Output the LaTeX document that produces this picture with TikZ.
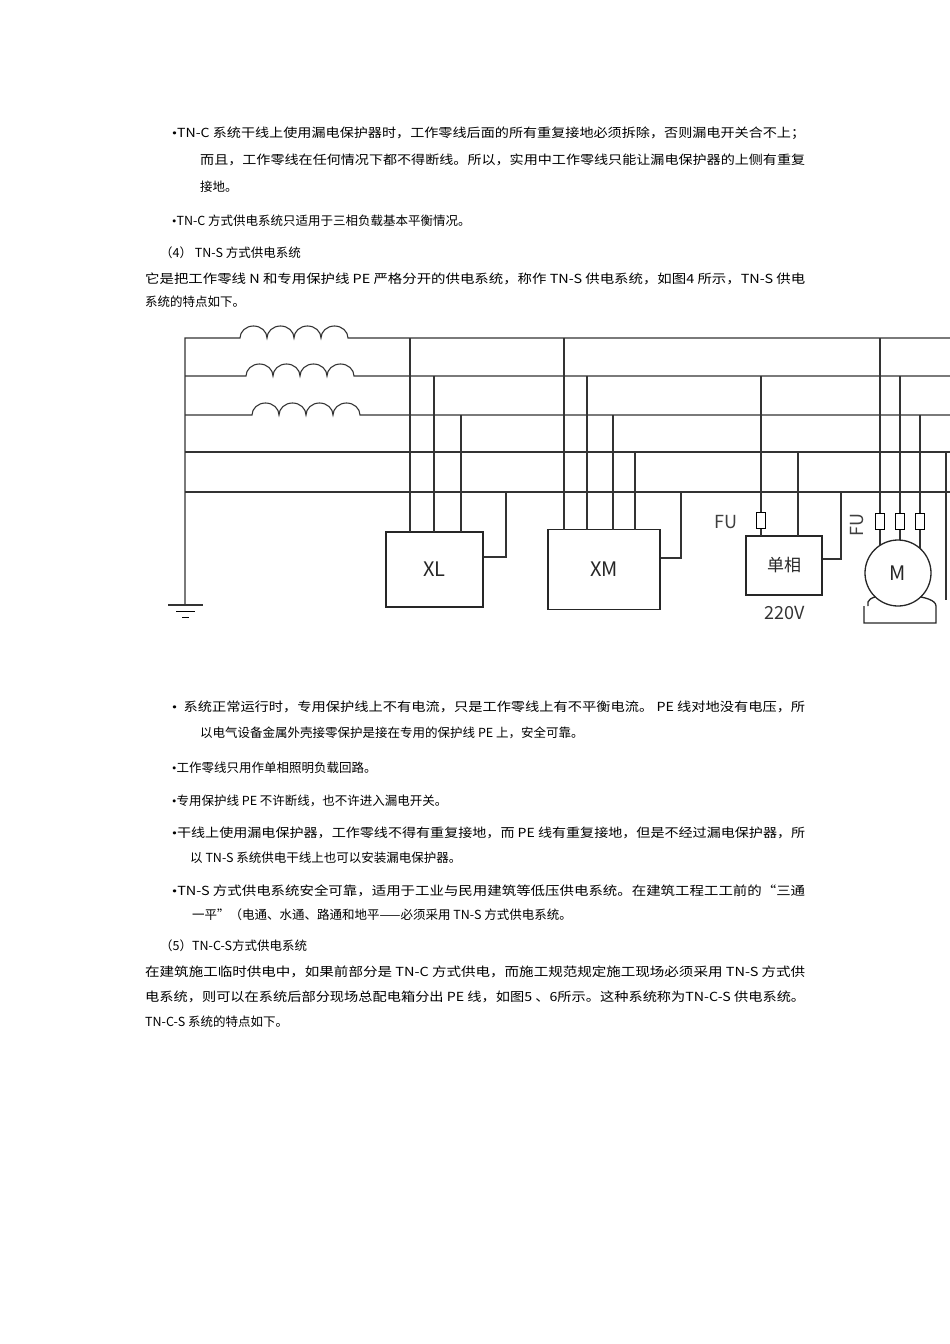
\documentclass[tikz,border=0pt]{standalone}
\usepackage{fontspec}
\usepackage{graphicx}
\setmainfont{Noto Sans CJK SC}
\newfontfamily\bulfont{Liberation Serif}
\begin{document}
\begin{tikzpicture}[x=1pt,y=-1pt,
  txt/.style={anchor=west,inner sep=0pt,font=\fontsize{12.5}{14}\selectfont},
  wire/.style={line width=1.1pt,black!80},
  box/.style={draw,line width=1.3pt,black!85,inner sep=0pt,font=\fontsize{20}{22}\selectfont},
  fuse/.style={draw,line width=1pt,minimum width=9pt,minimum height=16pt,inner sep=0pt,fill=white}]
\useasboundingbox (0,0) rectangle (950,1344);
\newcommand\fl[2]{\resizebox{#1pt}{\height}{#2}}
\newcommand\bu{{\bulfont •}}
% text
\node[txt] at (172,133) {\fl{633}{\bu TN-C 系统干线上使用漏电保护器时，工作零线后面的所有重复接地必须拆除，否则漏电开关合不上；}};
\node[txt] at (200,160) {\fl{605}{而且，工作零线在任何情况下都不得断线。所以，实用中工作零线只能让漏电保护器的上侧有重复}};
\node[txt] at (200,187) {接地。};
\node[txt] at (172,221) {\bu TN-C 方式供电系统只适用于三相负载基本平衡情况。};
\node[txt] at (160,253) {（4） TN-S 方式供电系统};
\node[txt] at (145,279) {\fl{660}{它是把工作零线 N 和专用保护线 PE 严格分开的供电系统，称作 TN-S 供电系统，如图4 所示，TN-S 供电}};
\node[txt] at (145,302) {系统的特点如下。};
\node[txt] at (172,707) {\fl{633}{\bu\ \ 系统正常运行时，专用保护线上不有电流，只是工作零线上有不平衡电流。 PE 线对地没有电压，所}};
\node[txt] at (200,733) {以电气设备金属外壳接零保护是接在专用的保护线 PE 上，安全可靠。};
\node[txt] at (172,768) {\bu 工作零线只用作单相照明负载回路。};
\node[txt] at (172,801) {\bu 专用保护线 PE 不许断线，也不许进入漏电开关。};
\node[txt] at (172,833) {\fl{633}{\bu 干线上使用漏电保护器，工作零线不得有重复接地，而 PE 线有重复接地，但是不经过漏电保护器，所}};
\node[txt] at (190,858) {以 TN-S 系统供电干线上也可以安装漏电保护器。};
\node[txt] at (172,891) {\fl{633}{\bu TN-S 方式供电系统安全可靠，适用于工业与民用建筑等低压供电系统。在建筑工程工工前的“三通}};
\node[txt] at (192,915) {一平”（电通、水通、路通和地平——必须采用 TN-S 方式供电系统。};
\node[txt] at (160,946) {（5）TN-C-S方式供电系统};
\node[txt] at (145,972) {\fl{660}{在建筑施工临时供电中，如果前部分是 TN-C 方式供电，而施工规范规定施工现场必须采用 TN-S 方式供}};
\node[txt] at (145,997) {\fl{660}{电系统，则可以在系统后部分现场总配电箱分出 PE 线，如图5 、6所示。这种系统称为TN-C-S 供电系统。}};
\node[txt] at (145,1022) {TN-C-S 系统的特点如下。};
% diagram
\def\yA{338}\def\yB{376}\def\yC{415}\def\yD{452}\def\yE{492}
\tikzset{hump/.style={}}
\newcommand\humps{arc[start angle=180,end angle=360,x radius=13.5,y radius=12]
  arc[start angle=180,end angle=360,x radius=13.5,y radius=12]
  arc[start angle=180,end angle=360,x radius=13.5,y radius=12]
  arc[start angle=180,end angle=360,x radius=13.5,y radius=12]}
\draw[wire] (185,605) -- (185,\yA) -- (240,\yA) \humps -- (950,\yA);
\draw[wire] (185,\yB) -- (246,\yB) \humps -- (950,\yB);
\draw[wire] (185,\yC) -- (252,\yC) \humps -- (950,\yC);
\draw[wire] (185,\yD) -- (950,\yD);
\draw[wire] (185,\yE) -- (950,\yE);
% ground
\draw[wire] (168,605) -- (203,605);
\draw[line width=0.8pt] (176,611) -- (195,611) (182,617) -- (189,617);
% XL
\node[box,minimum width=97pt,minimum height=75pt] (xl) at (434.5,569.5) {XL};
\draw[wire] (410,\yA) -- (410,532) (434,\yB) -- (434,532) (461,\yC) -- (461,532);
\draw[wire] (xl.east |- 0,557) -- (506,557) -- (506,\yE);
% XM
\node[box,minimum width=112pt,minimum height=80pt] (xm) at (604,569.5) {XM};
\draw[wire] (564,\yA) -- (564,529.5) (587,\yB) -- (587,529.5) (613,\yC) -- (613,529.5) (635,\yD) -- (635,529.5);
\draw[wire] (xm.east |- 0,558) -- (681,558) -- (681,\yE);
% single phase
\node[box,minimum width=76pt,minimum height=59pt] (sp) at (784,565.5) {\fontsize{17}{18}\selectfont 单相};
\draw[wire] (761,\yB) -- (761,536) (798,\yD) -- (798,536);
\node[fuse] (f0) at (761,520) {};
\draw[wire] (sp.east |- 0,559) -- (841,559) -- (841,\yE);
\node[inner sep=0pt,font=\fontsize{18}{20}\selectfont,black!75] (fu1) at (726,522) {FU};
\node[inner sep=0pt,font=\fontsize{18}{20}\selectfont,black!80] (v) at (785,613) {220V};
% motor
\draw[wire] (880,\yA) -- (880,560) (900,\yB) -- (900,540) (920,\yC) -- (920,560);
\node[fuse] at (880,521) {};
\node[fuse] at (900,521) {};
\node[fuse] at (920,521) {};
\draw[line width=1.3pt,black!85] (868,606) .. controls (866,600) and (872,597) .. (880,596)
   (914,596) .. controls (924,597) and (936,600) .. (936,606) -- (936,623) -- (864,623) -- (864,606);
\node[draw,circle,line width=1.3pt,black!85,fill=white,minimum size=66pt,inner sep=0pt,font=\fontsize{20}{22}\selectfont] (m) at (898,573) {M};
\node[inner sep=0pt,rotate=90,font=\fontsize{18}{20}\selectfont,black!75] (fu2) at (857,525) {FU};
\draw[wire] (946,\yD) -- (946,600);
\end{tikzpicture}
\end{document}
